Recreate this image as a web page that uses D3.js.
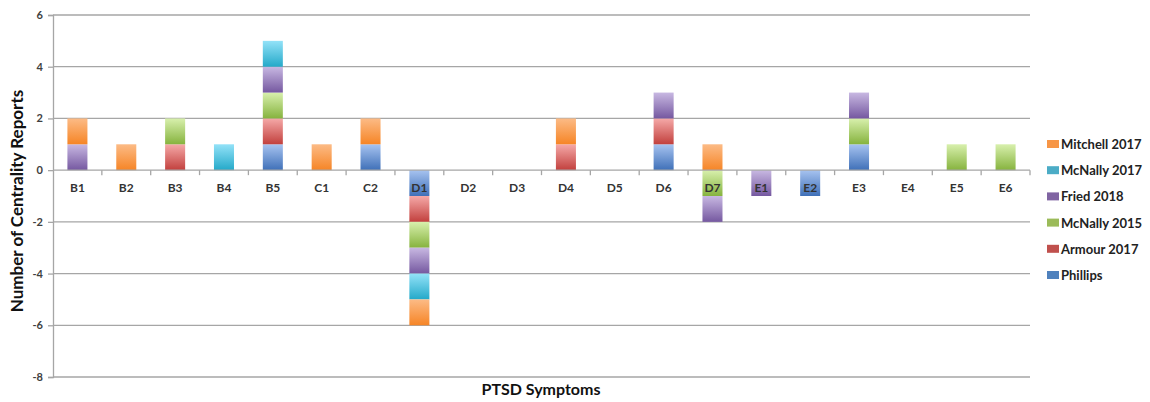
<!DOCTYPE html>
<html>
<head>
<meta charset="utf-8">
<script src="https://cdn.jsdelivr.net/npm/d3@7"></script>
<style>
  html, body { margin: 0; padding: 0; background: #fff; }
  svg text { font-family: Lato, "Open Sans", sans-serif; font-weight: bold; }
</style>
</head>
<body>
<svg id="chart" width="1150" height="402"></svg>
<script>
// symptoms along the x axis
var categories = ['B1', 'B2', 'B3', 'B4', 'B5', 'C1', 'C2', 'D1', 'D2', 'D3',
  'D4', 'D5', 'D6', 'D7', 'E1', 'E2', 'E3', 'E4', 'E5', 'E6'];

// one array per study, in stacking order (bottom first)
var phillips    = [0, 0, 0, 0, 1, 0, 1, -1, 0, 0, 0, 0, 1, 0, 0, -1, 1, 0, 0, 0];
var armour2017  = [0, 0, 1, 0, 1, 0, 0, -1, 0, 0, 1, 0, 1, 0, 0, 0, 0, 0, 0, 0];
var mcnally2015 = [0, 0, 1, 0, 1, 0, 0, -1, 0, 0, 0, 0, 0, -1, 0, 0, 1, 0, 1, 1];
var fried2018   = [1, 0, 0, 0, 1, 0, 0, -1, 0, 0, 0, 0, 1, -1, -1, 0, 1, 0, 0, 0];
var mcnally2017 = [0, 0, 0, 1, 1, 0, 0, -1, 0, 0, 0, 0, 0, 0, 0, 0, 0, 0, 0, 0];
var mitchell2017 = [1, 1, 0, 0, 0, 1, 1, -1, 0, 0, 1, 0, 0, 1, 0, 0, 0, 0, 0, 0];

var seriesNames = ['Phillips', 'Armour 2017', 'McNally 2015', 'Fried 2018', 'McNally 2017', 'Mitchell 2017'];
var seriesValues = [phillips, armour2017, mcnally2015, fried2018, mcnally2017, mitchell2017];

var yTicks = [6, 4, 2, 0, -2, -4, -6, -8];

var colors = {
  'Phillips':      {base: '#4f81bd', light: '#a7c3f0', dark: '#3f70b8'},
  'Armour 2017':   {base: '#c0504d', light: '#f5a9a8', dark: '#c2403d'},
  'McNally 2015':  {base: '#9bbb59', light: '#d8f0ad', dark: '#86b33e'},
  'Fried 2018':    {base: '#8064a2', light: '#c8b8e2', dark: '#7558a0'},
  'McNally 2017':  {base: '#4bacc6', light: '#93e2f8', dark: '#24a9c9'},
  'Mitchell 2017': {base: '#f79646', light: '#fcbb86', dark: '#f68526'}
};

var table = categories.map(function (c, i) {
  var row = {cat: c};
  seriesNames.forEach(function (s, j) { row[s] = seriesValues[j][i]; });
  return row;
});

var plot = {left: 53, right: 1030, top: 15, bottom: 377};

var svg = d3.select('#chart');

var x = d3.scaleBand()
  .domain(categories)
  .range([plot.left, plot.right])
  .paddingInner(0.59)
  .paddingOuter(0.295);

var y = d3.scaleLinear()
  .domain([-8, 6])
  .range([plot.bottom, plot.top]);

var stacked = d3.stack()
  .keys(seriesNames)
  .offset(d3.stackOffsetDiverging)(table);

// gradients, light at top and darker at bottom
var defs = svg.append('defs');
seriesNames.forEach(function (s, i) {
  var g = defs.append('linearGradient')
    .attr('id', 'grad' + i)
    .attr('x1', 0).attr('y1', 0).attr('x2', 0).attr('y2', 1);
  g.append('stop').attr('offset', '0%').attr('stop-color', colors[s].light);
  g.append('stop').attr('offset', '100%').attr('stop-color', colors[s].dark);
});

// horizontal gridlines
svg.append('g')
  .selectAll('line')
  .data(yTicks.filter(function (t) { return t !== 0; }))
  .enter()
  .append('line')
  .attr('x1', plot.left)
  .attr('x2', plot.right)
  .attr('y1', function (d) { return y(d); })
  .attr('y2', function (d) { return y(d); })
  .attr('stroke', '#a6a6a6')
  .attr('stroke-width', 1.3);

// y axis
var yAxis = svg.append('g')
  .attr('transform', 'translate(' + plot.left + ',0)')
  .call(d3.axisLeft(y).tickValues(yTicks).tickSize(5).tickPadding(5).tickFormat(d3.format('d')));
yAxis.select('.domain').attr('stroke', '#a6a6a6').attr('stroke-width', 1.3);
yAxis.selectAll('.tick line').attr('stroke', '#a6a6a6').attr('stroke-width', 1.3);
yAxis.selectAll('.tick text')
  .attr('fill', '#404040')
  .style('font-size', '11px')
  .text(function (d) { return d < 0 ? '-' + Math.abs(d) : d; });

// bars
var layers = svg.append('g')
  .selectAll('g')
  .data(stacked)
  .enter()
  .append('g')
  .attr('fill', function (d, i) { return 'url(#grad' + i + ')'; });

layers.selectAll('rect')
  .data(function (d) { return d.filter(function (p) { return p[1] !== p[0]; }); })
  .enter()
  .append('rect')
  .attr('x', function (d) { return x(d.data.cat); })
  .attr('width', x.bandwidth())
  .attr('y', function (d) { return y(Math.max(d[0], d[1])); })
  .attr('height', function (d) { return Math.abs(y(d[0]) - y(d[1])); });

// category axis at zero
var xAxis = svg.append('g')
  .attr('transform', 'translate(0,' + y(0) + ')');
xAxis.append('line')
  .attr('x1', plot.left)
  .attr('x2', plot.right)
  .attr('stroke', '#a6a6a6')
  .attr('stroke-width', 1.3);
xAxis.selectAll('.cat-tick')
  .data(categories)
  .enter()
  .append('line')
  .attr('class', 'cat-tick')
  .attr('x1', function (d) { return x(d) - x.step() * x.paddingOuter() + x.step(); })
  .attr('x2', function (d) { return x(d) - x.step() * x.paddingOuter() + x.step(); })
  .attr('y1', 0)
  .attr('y2', 5)
  .attr('stroke', '#a6a6a6')
  .attr('stroke-width', 1.3);
xAxis.selectAll('.cat-label')
  .data(categories)
  .enter()
  .append('text')
  .attr('class', 'cat-label')
  .attr('x', function (d) { return x(d) + x.bandwidth() / 2; })
  .attr('y', 22)
  .attr('text-anchor', 'middle')
  .attr('fill', '#333')
  .style('font-size', '12px')
  .text(function (d) { return d; });

// axis titles
svg.append('text')
  .attr('transform', 'translate(23,' + ((plot.top + plot.bottom) / 2 + 5) + ') rotate(-90)')
  .attr('text-anchor', 'middle')
  .attr('fill', '#111')
  .style('font-size', '17px')
  .text('Number of Centrality Reports');

svg.append('text')
  .attr('x', 541)
  .attr('y', 395)
  .attr('text-anchor', 'middle')
  .attr('fill', '#111')
  .style('font-size', '16px')
  .text('PTSD Symptoms');

// legend, top series first
var legendNames = seriesNames.slice().reverse();
var legend = svg.append('g')
  .selectAll('g')
  .data(legendNames)
  .enter()
  .append('g')
  .attr('transform', function (d, i) { return 'translate(1047,' + (144 + i * 26.2) + ')'; });

legend.append('rect')
  .attr('x', 0)
  .attr('y', -4)
  .attr('width', 12)
  .attr('height', 8)
  .attr('fill', function (d) { return colors[d].base; });

legend.append('text')
  .attr('x', 14)
  .attr('y', 5)
  .attr('fill', '#222')
  .style('font-size', '13px')
  .text(function (d) { return d; });
</script>
</body>
</html>
